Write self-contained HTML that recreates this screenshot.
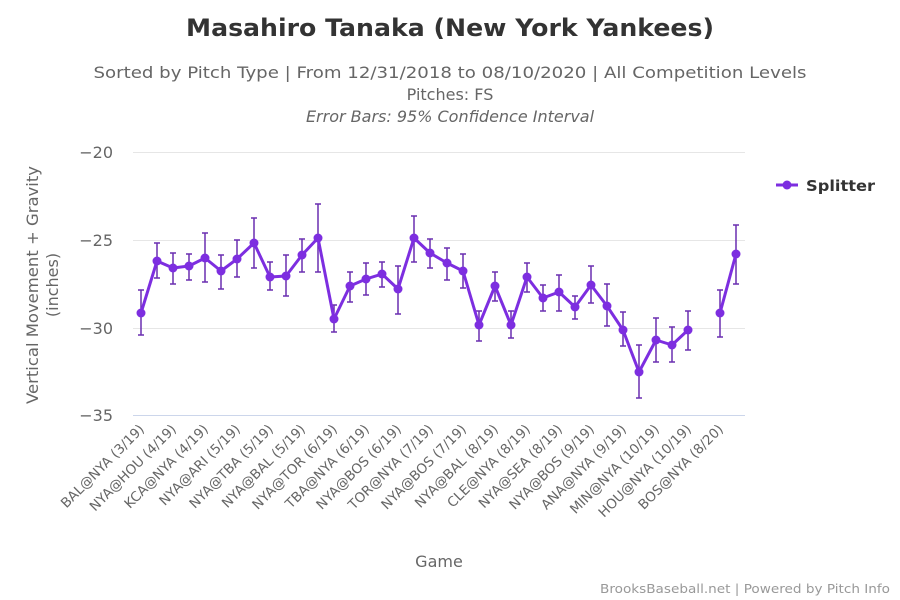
<!DOCTYPE html>
<html><head><meta charset="utf-8"><style>
html,body{margin:0;padding:0;background:#fff;width:900px;height:600px;overflow:hidden}
svg{font-family:"DejaVu Sans","Liberation Sans",sans-serif}
</style></head><body>
<svg width="900" height="600" viewBox="0 0 900 600" xmlns="http://www.w3.org/2000/svg">
<rect width="900" height="600" fill="#fff"/>
<text x="450" y="36" text-anchor="middle" font-size="24" font-weight="bold" fill="#333" textLength="528" lengthAdjust="spacingAndGlyphs">Masahiro Tanaka (New York Yankees)</text>
<text x="450" y="78" text-anchor="middle" font-size="16" fill="#666" textLength="713" lengthAdjust="spacingAndGlyphs">Sorted by Pitch Type | From 12/31/2018 to 08/10/2020 | All Competition Levels</text>
<text x="450" y="100" text-anchor="middle" font-size="16" fill="#666">Pitches: FS</text>
<text x="450" y="122" text-anchor="middle" font-size="16" font-style="italic" fill="#666">Error Bars: 95% Confidence Interval</text>
<g stroke="#e6e6e6" stroke-width="1">
<line x1="133" x2="745" y1="152.5" y2="152.5"/>
<line x1="133" x2="745" y1="240.5" y2="240.5"/>
<line x1="133" x2="745" y1="328.5" y2="328.5"/>
</g>
<line x1="133" x2="745" y1="415.5" y2="415.5" stroke="#ccd6eb"/>
<g font-size="16" fill="#666" text-anchor="end">
<text x="113" y="158">−20</text>
<text x="113" y="246">−25</text>
<text x="113" y="334">−30</text>
<text x="113" y="421">−35</text>
</g>
<g font-size="16" fill="#666" text-anchor="middle" transform="translate(38,285) rotate(-90)">
<text x="0" y="0" textLength="238" lengthAdjust="spacingAndGlyphs">Vertical Movement + Gravity</text>
<text x="0" y="20">(inches)</text>
</g>
<g stroke="#6a2fb0" stroke-width="1.5" fill="none">
<path d="M141 290V335M138 290H144M138 335H144
M157 243V278M154 243H160M154 278H160
M173 253V284M170 253H176M170 284H176
M189 254V280M186 254H192M186 280H192
M205 233V282M202 233H208M202 282H208
M221 255V289M218 255H224M218 289H224
M237 240V277M234 240H240M234 277H240
M254 218V268M251 218H257M251 268H257
M270 262V290M267 262H273M267 290H273
M286 255V296M283 255H289M283 296H289
M302 239V272M299 239H305M299 272H305
M318 204V272M315 204H321M315 272H321
M334 305V332M331 305H337M331 332H337
M350 272V302M347 272H353M347 302H353
M366 263V295M363 263H369M363 295H369
M382 262V287M379 262H385M379 287H385
M398 266V314M395 266H401M395 314H401
M414 216V262M411 216H417M411 262H417
M430 239V268M427 239H433M427 268H433
M447 248V280M444 248H450M444 280H450
M463 254V288M460 254H466M460 288H466
M479 311V341M476 311H482M476 341H482
M495 272V301M492 272H498M492 301H498
M511 311V338M508 311H514M508 338H514
M527 263V292M524 263H530M524 292H530
M543 285V311M540 285H546M540 311H546
M559 275V311M556 275H562M556 311H562
M575 296V319M572 296H578M572 319H578
M591 266V303M588 266H594M588 303H594
M607 284V326M604 284H610M604 326H610
M623 312V346M620 312H626M620 346H626
M639 345V398M636 345H642M636 398H642
M656 318V362M653 318H659M653 362H659
M672 327V362M669 327H675M669 362H675
M688 311V350M685 311H691M685 350H691
M720 290V337M717 290H723M717 337H723
M736 225V284M733 225H739M733 284H739"/>
</g>
<g stroke="#7d2ee0" stroke-width="3" fill="none" stroke-linejoin="round">
<polyline points="141,313 157,261 173,268 189,266 205,258 221,271 237,259 254,243 270,277 286,276 302,255 318,238 334,319 350,286 366,279 382,274 398,289 414,238 430,253 447,263 463,271 479,325 495,286 511,325 527,277 543,298 559,292 575,307 591,285 607,306 623,330 639,372 656,340 672,345 688,330"/>
<polyline points="720,313 736,254"/>
</g>
<g fill="#7d2ee0">
<circle cx="141" cy="313" r="4.5"/><circle cx="157" cy="261" r="4.5"/><circle cx="173" cy="268" r="4.5"/><circle cx="189" cy="266" r="4.5"/><circle cx="205" cy="258" r="4.5"/><circle cx="221" cy="271" r="4.5"/><circle cx="237" cy="259" r="4.5"/><circle cx="254" cy="243" r="4.5"/><circle cx="270" cy="277" r="4.5"/><circle cx="286" cy="276" r="4.5"/><circle cx="302" cy="255" r="4.5"/><circle cx="318" cy="238" r="4.5"/><circle cx="334" cy="319" r="4.5"/><circle cx="350" cy="286" r="4.5"/><circle cx="366" cy="279" r="4.5"/><circle cx="382" cy="274" r="4.5"/><circle cx="398" cy="289" r="4.5"/><circle cx="414" cy="238" r="4.5"/><circle cx="430" cy="253" r="4.5"/><circle cx="447" cy="263" r="4.5"/><circle cx="463" cy="271" r="4.5"/><circle cx="479" cy="325" r="4.5"/><circle cx="495" cy="286" r="4.5"/><circle cx="511" cy="325" r="4.5"/><circle cx="527" cy="277" r="4.5"/><circle cx="543" cy="298" r="4.5"/><circle cx="559" cy="292" r="4.5"/><circle cx="575" cy="307" r="4.5"/><circle cx="591" cy="285" r="4.5"/><circle cx="607" cy="306" r="4.5"/><circle cx="623" cy="330" r="4.5"/><circle cx="639" cy="372" r="4.5"/><circle cx="656" cy="340" r="4.5"/><circle cx="672" cy="345" r="4.5"/><circle cx="688" cy="330" r="4.5"/><circle cx="720" cy="313" r="4.5"/><circle cx="736" cy="254" r="4.5"/>
</g>
<g font-size="13.5" fill="#666" text-anchor="end">
<text transform="translate(145,430) rotate(-45)">BAL@NYA (3/19)</text>
<text transform="translate(177,430) rotate(-45)">NYA@HOU (4/19)</text>
<text transform="translate(209,430) rotate(-45)">KCA@NYA (4/19)</text>
<text transform="translate(241,430) rotate(-45)">NYA@ARI (5/19)</text>
<text transform="translate(274,430) rotate(-45)">NYA@TBA (5/19)</text>
<text transform="translate(306,430) rotate(-45)">NYA@BAL (5/19)</text>
<text transform="translate(338,430) rotate(-45)">NYA@TOR (6/19)</text>
<text transform="translate(370,430) rotate(-45)">TBA@NYA (6/19)</text>
<text transform="translate(402,430) rotate(-45)">NYA@BOS (6/19)</text>
<text transform="translate(434,430) rotate(-45)">TOR@NYA (7/19)</text>
<text transform="translate(467,430) rotate(-45)">NYA@BOS (7/19)</text>
<text transform="translate(499,430) rotate(-45)">NYA@BAL (8/19)</text>
<text transform="translate(531,430) rotate(-45)">CLE@NYA (8/19)</text>
<text transform="translate(563,430) rotate(-45)">NYA@SEA (8/19)</text>
<text transform="translate(595,430) rotate(-45)">NYA@BOS (9/19)</text>
<text transform="translate(627,430) rotate(-45)">ANA@NYA (9/19)</text>
<text transform="translate(660,430) rotate(-45)">MIN@NYA (10/19)</text>
<text transform="translate(692,430) rotate(-45)">HOU@NYA (10/19)</text>
<text transform="translate(724,430) rotate(-45)">BOS@NYA (8/20)</text>
</g>
<text x="439" y="567" text-anchor="middle" font-size="16" fill="#666">Game</text>
<line x1="776" x2="798" y1="185" y2="185" stroke="#7d2ee0" stroke-width="3"/>
<circle cx="787" cy="185" r="4.5" fill="#7d2ee0"/>
<text x="806" y="191" font-size="15" font-weight="bold" fill="#333" textLength="69" lengthAdjust="spacingAndGlyphs">Splitter</text>
<text x="890" y="593" text-anchor="end" font-size="12" fill="#999" textLength="290" lengthAdjust="spacingAndGlyphs">BrooksBaseball.net | Powered by Pitch Info</text>
</svg>
</body></html>
